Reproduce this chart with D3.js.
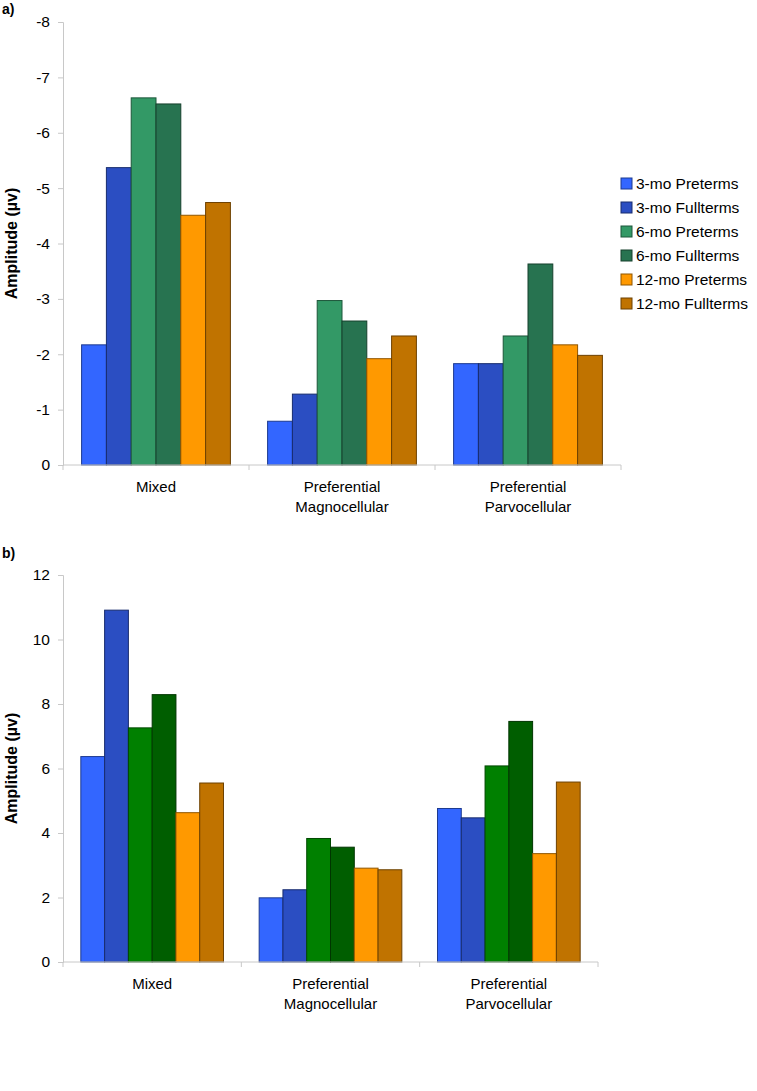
<!DOCTYPE html>
<meta charset="utf-8">
<style>
    body { margin: 0; background: #fff; }
    svg { font-family: "Liberation Sans", Arial, sans-serif; }
    .axis path, .axis line { stroke: #c8c8c8; }
    .axis text { fill: #000; }
</style>
<title>Amplitude by age group</title>

<body>
    <script src="https://d3js.org/d3.v7.min.js"></script>
    <script>
        const categories = ['Mixed', 'Preferential Magnocellular', 'Preferential Parvocellular'];
        const seriesNames = ['3-mo Preterms', '3-mo Fullterms', '6-mo Preterms', '6-mo Fullterms', '12-mo Preterms', '12-mo Fullterms'];

        // panel a) values per series, one entry per category
        const valuesA = [
            [-2.17, -0.79, -1.83],
            [-5.37, -1.28, -1.83],
            [-6.63, -2.97, -2.33],
            [-6.52, -2.60, -3.63],
            [-4.51, -1.92, -2.17],
            [-4.74, -2.33, -1.98]
        ];
        // panel b)
        const valuesB = [
            [6.37, 1.99, 4.76],
            [10.91, 2.24, 4.47],
            [7.26, 3.83, 6.08],
            [8.29, 3.56, 7.46],
            [4.63, 2.91, 3.36],
            [5.55, 2.86, 5.58]
        ];
        const ticksA = [0, -1, -2, -3, -4, -5, -6, -7, -8];
        const ticksB = [0, 2, 4, 6, 8, 10, 12];

        const colorsA = ['#3366ff', '#2b4ec2', '#339966', '#277350', '#ff9900', '#c07300'];
        const colorsB = ['#3366ff', '#2b4ec2', '#008000', '#005e00', '#ff9900', '#c07300'];

        const svg = d3.select('body').append('svg')
            .attr('width', 757)
            .attr('height', 1091);

        function panel(opts) {
            let g = svg.append('g');

            let x0 = d3.scaleBand().domain(categories).range([opts.left, opts.right]);
            let x1 = d3.scaleBand().domain(seriesNames)
                .range([x0.bandwidth() * 0.1, x0.bandwidth() * 0.9]);
            let y = d3.scaleLinear().domain(opts.domain).range([opts.bottom, opts.top]);

            // bars
            seriesNames.forEach((s, i) => {
                g.append('g').selectAll('rect')
                    .data(categories.map((c, j) => ({c: c, v: opts.values[i][j]})))
                    .enter().append('rect')
                    .attr('x', d => x0(d.c) + x1(s))
                    .attr('width', x1.bandwidth())
                    .attr('y', d => Math.min(y(d.v), y(0)))
                    .attr('height', d => Math.abs(y(d.v) - y(0)))
                    .attr('fill', opts.colors[i])
                    .attr('stroke', d3.color(opts.colors[i]).darker(1.6))
                    .attr('stroke-width', 1);
            });

            // y axis, plain hyphen for negatives
            g.append('g')
                .attr('class', 'axis')
                .attr('transform', `translate(${opts.left},0)`)
                .call(d3.axisLeft(y).tickValues(opts.ticks).tickFormat(d => String(d))
                    .tickSize(5).tickSizeOuter(5).tickPadding(8))
                .call(a => a.selectAll('text').attr('font-size', 15.5));

            // x axis with ticks between categories
            let xa = g.append('g').attr('class', 'axis');
            xa.append('line')
                .attr('x1', opts.left).attr('x2', opts.right)
                .attr('y1', y(0)).attr('y2', y(0));
            xa.selectAll('.sep')
                .data(categories.map(c => x0(c) + x0.bandwidth()).concat([opts.left]))
                .enter().append('line')
                .attr('x1', d => d).attr('x2', d => d)
                .attr('y1', y(0)).attr('y2', y(0) + 5);

            // category labels
            let lab = g.append('g').selectAll('text')
                .data(categories)
                .enter().append('text')
                .attr('text-anchor', 'middle')
                .attr('font-size', 15)
                .attr('x', d => x0(d) + x0.bandwidth() / 2)
                .attr('y', y(0) + 27);
            lab.each(function (d) {
                let words = d.split(' ');
                d3.select(this).selectAll('tspan')
                    .data(words)
                    .enter().append('tspan')
                    .attr('x', x0(d) + x0.bandwidth() / 2)
                    .attr('dy', (w, k) => k === 0 ? 0 : 20)
                    .text(w => w);
            });

            // y title
            g.append('text')
                .attr('transform', `translate(${opts.titleX},${(opts.top + opts.bottom) / 2}) rotate(-90)`)
                .attr('text-anchor', 'middle')
                .attr('font-size', 16)
                .attr('font-weight', 'bold')
                .text('Amplitude (µv)');

            // panel letter
            g.append('text')
                .attr('x', 2).attr('y', opts.letterY)
                .attr('font-size', 14)
                .attr('font-weight', 'bold')
                .text(opts.letter);

            return g;
        }

        panel({
            values: valuesA, colors: colorsA, ticks: ticksA,
            domain: [0, -8], top: 22, bottom: 465,
            left: 63, right: 621, titleX: 17, letter: 'a)', letterY: 14
        });

        panel({
            values: valuesB, colors: colorsB, ticks: ticksB,
            domain: [0, 12], top: 575, bottom: 962,
            left: 63, right: 598, titleX: 17, letter: 'b)', letterY: 558
        });

        // legend for panel a)
        let legend = svg.append('g').attr('transform', 'translate(621,178)');
        seriesNames.forEach((s, i) => {
            let row = legend.append('g').attr('transform', `translate(0,${i * 24})`);
            row.append('rect')
                .attr('width', 11).attr('height', 11)
                .attr('fill', colorsA[i])
                .attr('stroke', d3.color(colorsA[i]).darker(1.6));
            row.append('text')
                .attr('x', 15).attr('y', 10.5)
                .attr('font-size', 15.5)
                .text(s);
        });
    </script>
</body>
